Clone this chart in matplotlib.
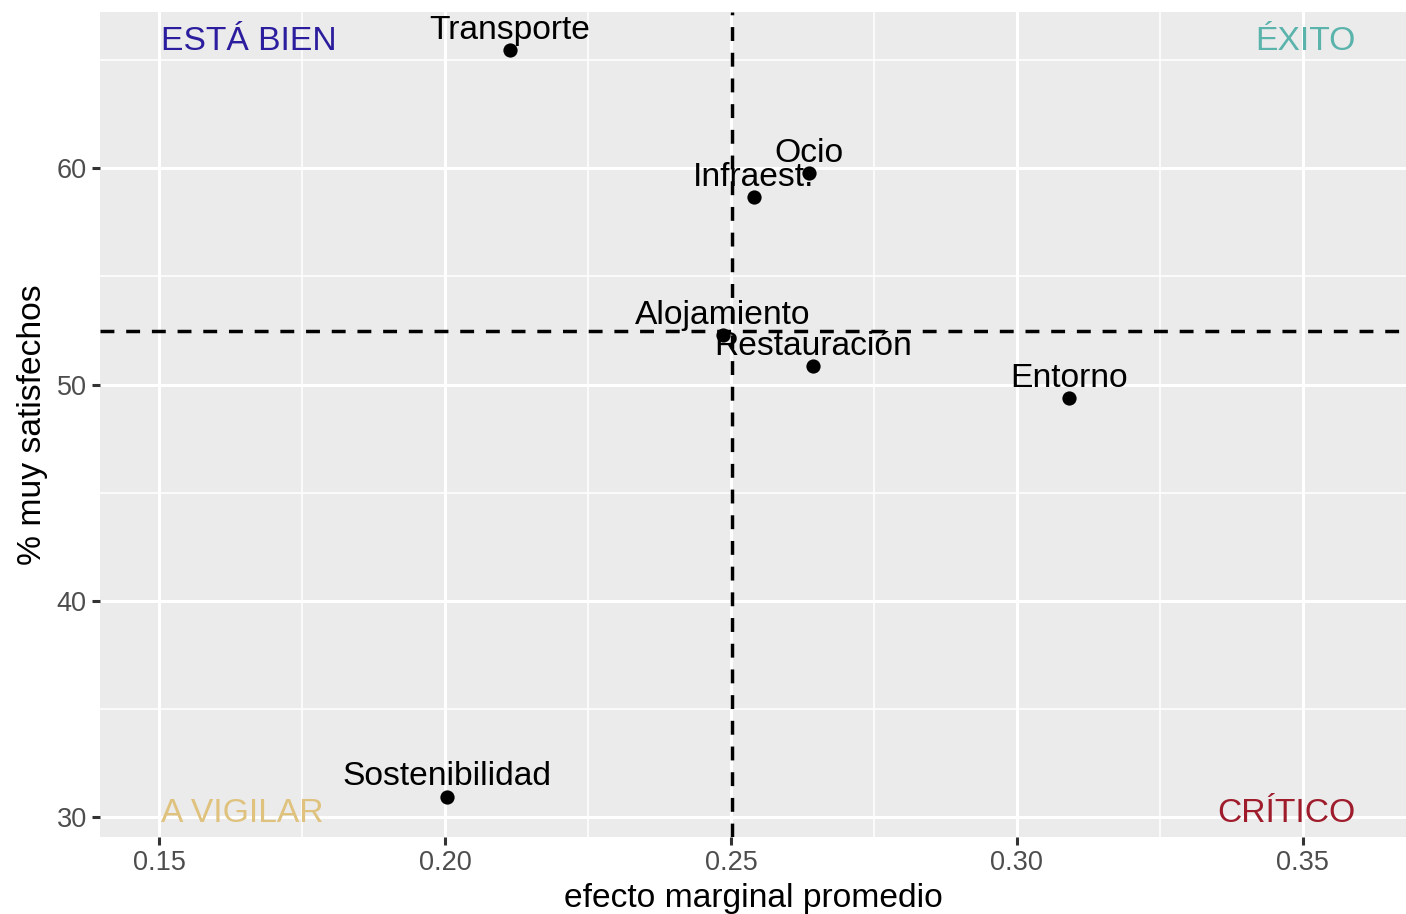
import matplotlib
matplotlib.use("Agg")
import matplotlib.pyplot as plt
from matplotlib.ticker import MultipleLocator, FixedLocator
import numpy as np

plt.rcParams["font.family"] = ["Liberation Sans", "DejaVu Sans"]

# Satisfaction drivers: average marginal effect vs. share of very satisfied
categorias = ["Transporte", "Ocio", "Infraest.", "Alojamiento",
              "Restauración", "Entorno", "Sostenibilidad"]
efecto = [0.2113, 0.2637, 0.2540, 0.2486, 0.2644, 0.3092, 0.2003]
satisfechos = [65.47, 59.80, 58.69, 52.29, 50.86, 49.39, 30.94]

cuadrantes = ["ESTÁ BIEN", "ÉXITO", "A VIGILAR", "CRÍTICO"]
colores_cuadrante = ["#2b1d9e", "#5ab4ac", "#dfc27d", "#9e1c2b"]

x_ticks = [0.15, 0.20, 0.25, 0.30, 0.35]
y_ticks = [30, 40, 50, 60]

x = np.array(efecto)
y = np.array(satisfechos)
x_ref = x.mean()
y_ref = y.mean()

FS = 24.2

fig = plt.figure(figsize=(14.06, 9.14), dpi=100)
ax = fig.add_axes([100 / 1406, 1 - 837 / 914, 1306 / 1406, 825 / 914])
ax.set_facecolor("#EBEBEB")
for s in ax.spines.values():
    s.set_visible(False)

ax.set_xlim(0.13963, 0.36807)
ax.set_ylim(29.07, 67.23)

ax.xaxis.set_major_locator(FixedLocator(x_ticks))
ax.yaxis.set_major_locator(FixedLocator(y_ticks))
ax.xaxis.set_minor_locator(MultipleLocator(0.025))
ax.yaxis.set_minor_locator(MultipleLocator(5))
ax.set_xticklabels([f"{v:.2f}" for v in x_ticks])
ax.set_yticklabels([str(v) for v in y_ticks])

ax.grid(which="major", color="white", linewidth=2.2, zorder=0)
ax.grid(which="minor", color="white", linewidth=1.1, zorder=0)
ax.set_axisbelow(True)
ax.tick_params(which="major", length=5.5, width=2.2, color="#333333",
               labelsize=19.5, labelcolor="#4D4D4D", pad=4)
ax.tick_params(which="minor", length=0)

ax.scatter(x, y, s=105, color="black", zorder=3, linewidths=0)

for name, xi, yi in zip(categorias, x, y):
    ax.annotate(name, (xi, yi), xytext=(0, 8), textcoords="offset points",
                ha="center", va="baseline", fontsize=FS, color="black",
                zorder=4)

dash = (0, (4, 3.4))
ax.axvline(x_ref, color="black", linewidth=2.5, linestyle=dash, zorder=5)
ax.axhline(y_ref, color="black", linewidth=2.5, linestyle=dash, zorder=5)

x_left = x.min() - 0.05
x_right = x.max() + 0.05
y_top = y.max()
y_bot = y.min()
pos = [(x_left, y_top, "left", 0), (x_right, y_top, "right", 0),
       (x_left, y_bot, "left", -18.5), (x_right, y_bot, "right", -18.5)]
for label, col, (px, py, ha, dy) in zip(cuadrantes, colores_cuadrante, pos):
    ax.annotate(label, (px, py), xytext=(0, dy), textcoords="offset points",
                ha=ha, va="baseline", fontsize=FS, color=col, zorder=4)

ax.set_xlabel("efecto marginal promedio", fontsize=FS, color="black",
              labelpad=5)
ax.set_ylabel("% muy satisfechos", fontsize=FS, color="black", labelpad=6)

fig.savefig("out.png", dpi=100)
